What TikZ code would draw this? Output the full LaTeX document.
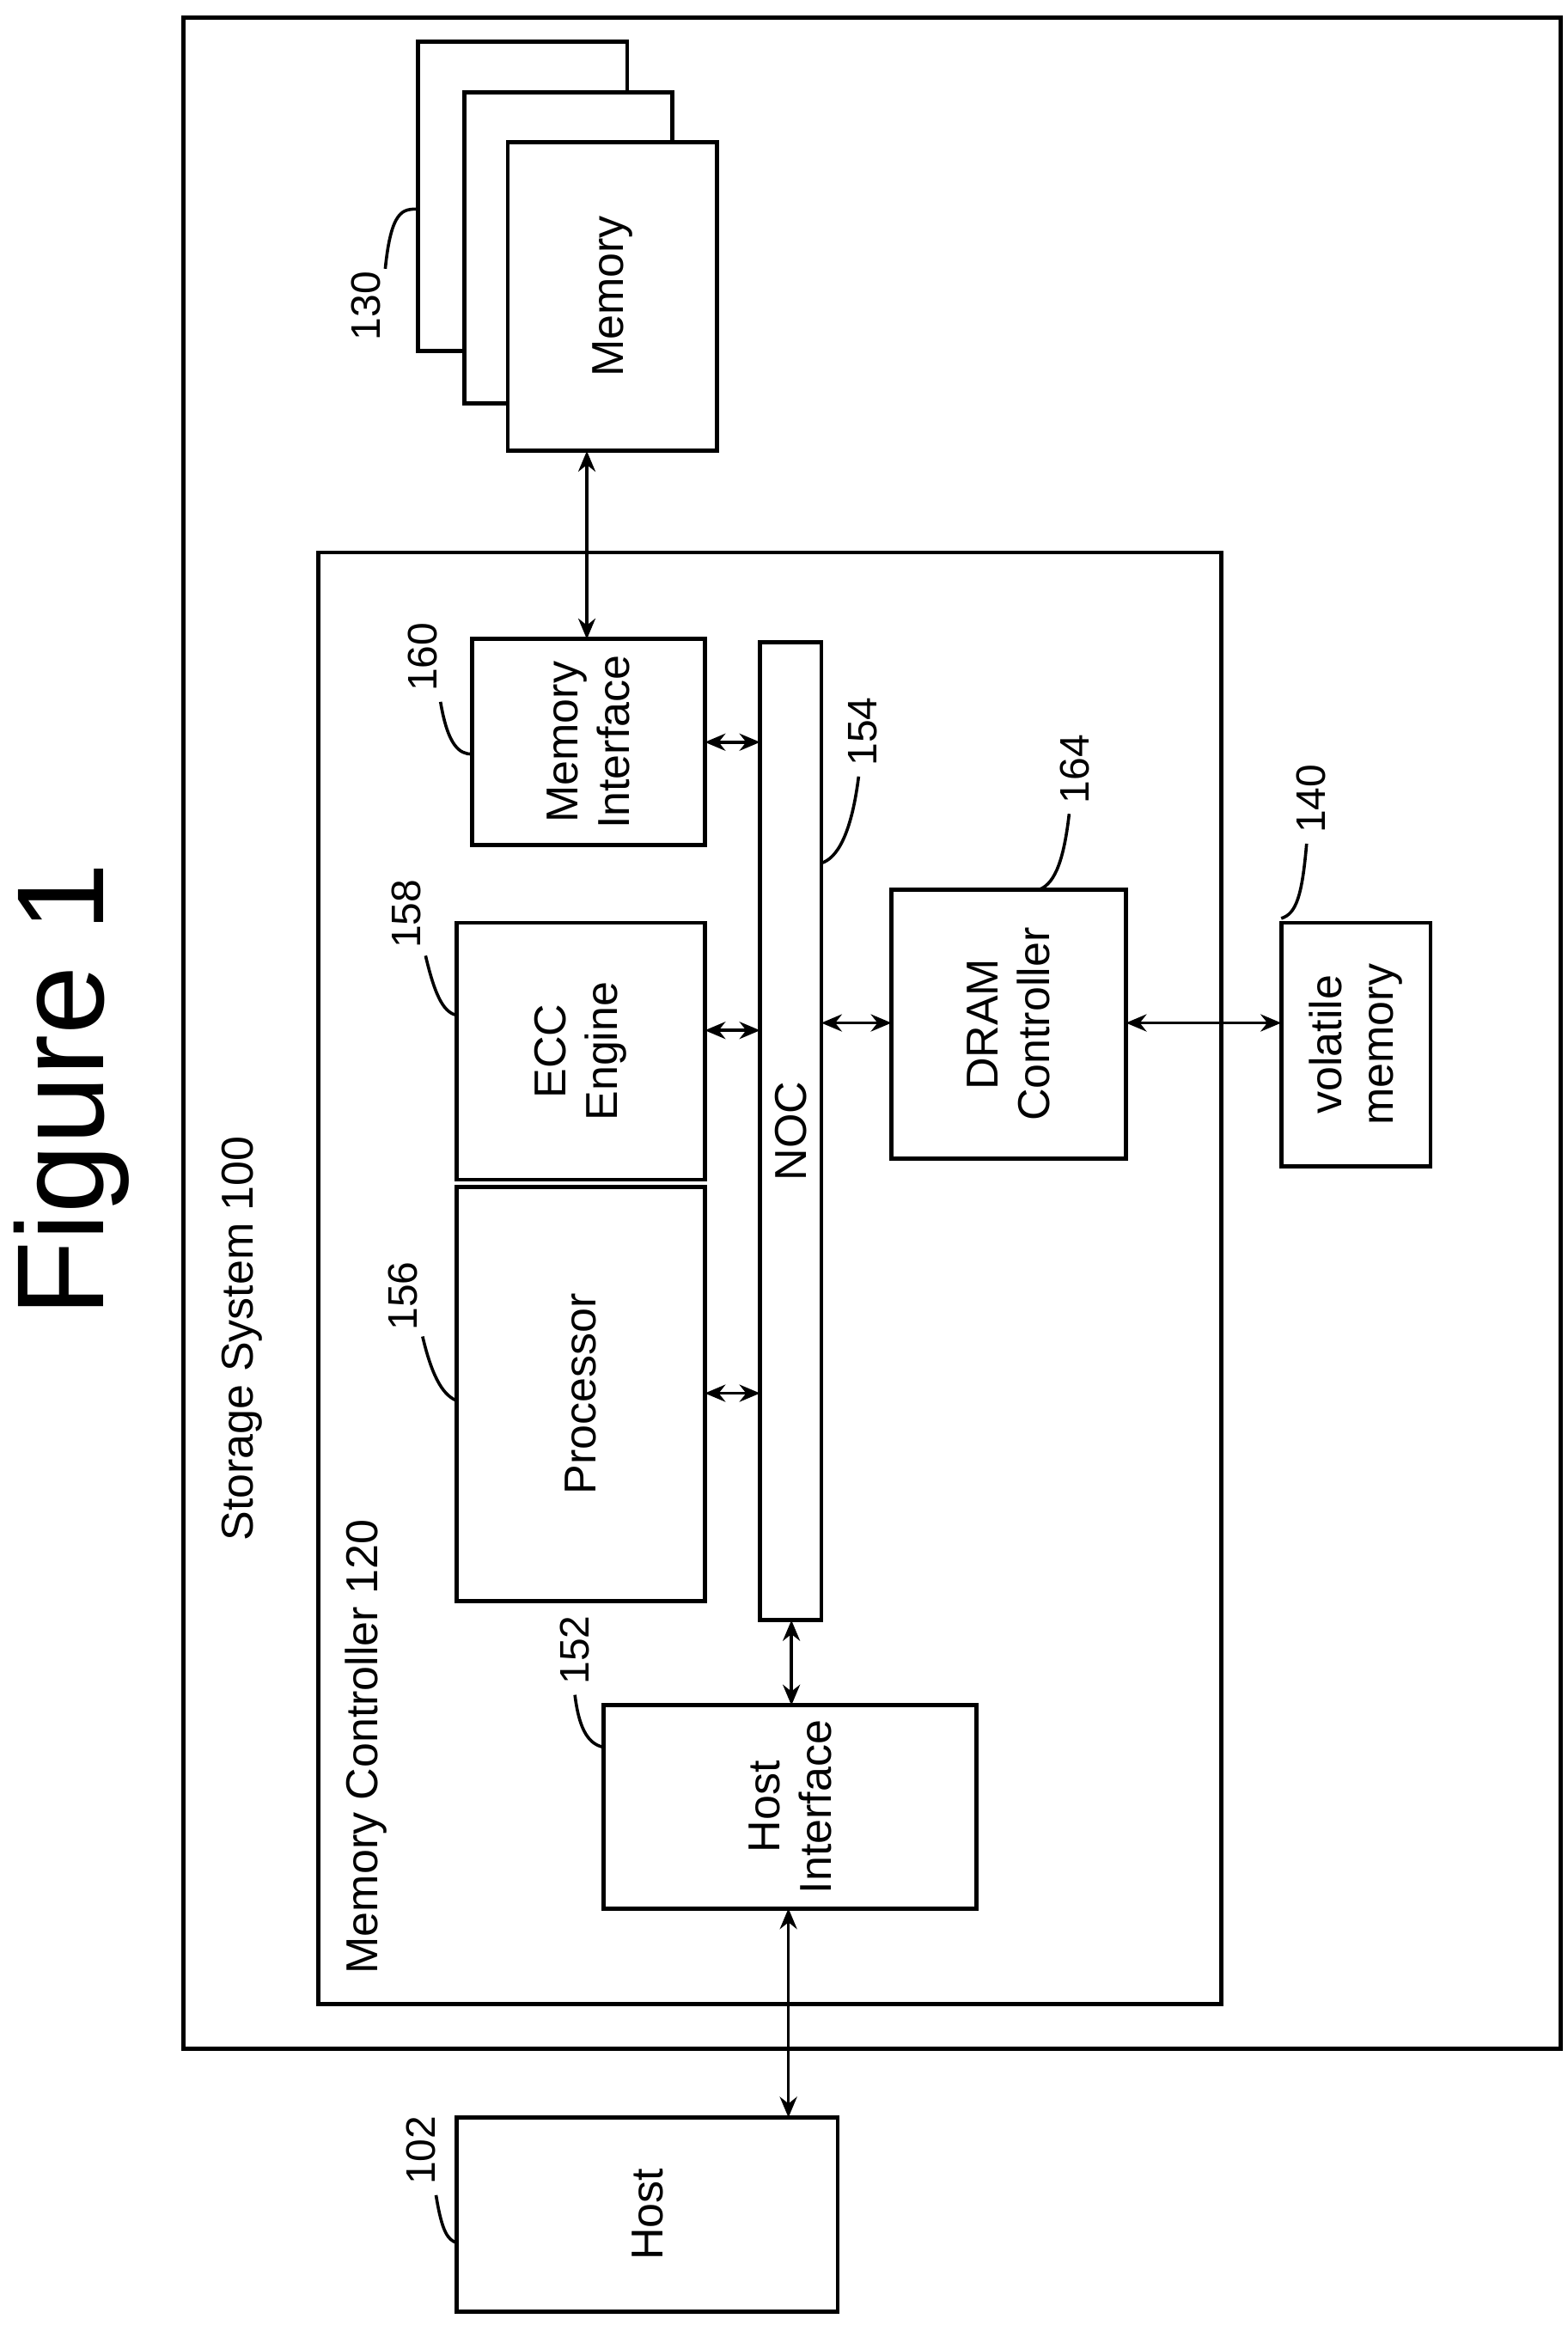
\documentclass[tikz,border=0pt]{standalone}
\usepackage{fontspec}
\setmainfont{Liberation Sans}
\usetikzlibrary{arrows.meta}
\def\u{0.4345pt}
\begin{document}
\begin{tikzpicture}[x=0.4345pt,y=-0.4345pt,
 box/.style={draw,line width=1.2pt,fill=white,anchor=north west,inner sep=0,outer sep=0},
 lbl/.style={rotate=90,font=\fontsize{13}{15}\selectfont,align=center},
 num/.style={rotate=90,font=\fontsize{12}{14}\selectfont},
 ar/.style={{Stealth[length=6pt,width=5pt]}-{Stealth[length=6pt,width=5pt]},line width=0.9pt},
 lead/.style={line width=0.9pt}]
\useasboundingbox (0,0) rectangle (1050,1561);
\draw[line width=1.2pt] (123,12) rectangle (1045,1372);
\draw[line width=1.2pt] (213,370) rectangle (818,1342);
\node[box,minimum width=140*\u,minimum height=207*\u] (m3) at (280,28) {};
\node[box,minimum width=139*\u,minimum height=208*\u] (m2) at (311,62) {};
\node[box,minimum width=140*\u,minimum height=207*\u] (mem) at (340,95) {};
\node[lbl] at (mem.center) {Memory};
\node[box,minimum width=156*\u,minimum height=138*\u] (mi) at (316,428) {};
\node[lbl] at (mi.center) {Memory\\Interface};
\node[box,minimum width=41*\u,minimum height=655*\u] (noc) at (509,430) {};
\node[lbl] at (noc.center) {NOC};
\node[box,minimum width=166*\u,minimum height=172*\u] (ecc) at (306,618) {};
\node[lbl] at (ecc.center) {ECC\\Engine};
\node[box,minimum width=166*\u,minimum height=277*\u] (proc) at (306,795) {};
\node[lbl] at (proc.center) {Processor};
\node[box,minimum width=250*\u,minimum height=136*\u] (hi) at (404,1142) {};
\node[lbl] at (hi.center) {Host\\Interface};
\node[box,minimum width=157*\u,minimum height=180*\u] (dram) at (597,596) {};
\node[lbl] at (dram.center) {DRAM\\Controller};
\node[box,minimum width=100*\u,minimum height=163*\u] (vm) at (858,618) {};
\node[lbl] at (vm.center) {volatile\\memory};
\node[box,minimum width=255*\u,minimum height=130*\u] (host) at (306,1418) {};
\node[lbl] at (host.center) {Host};
\node[rotate=90,font=\fontsize{36}{40}\selectfont] (fig) at (48,730) {Figure 1};
\node[lbl,anchor=west] (ss) at (162,1040) {Storage System 100};
\node[lbl,anchor=west] (mc) at (245,1330) {Memory Controller 120};
% arrows
\draw[ar] (mem.south -| 393,0) -- (mi.north -| 393,0);
\draw[ar] (mi.east |- 0,497) -- (noc.west |- 0,497);
\draw[ar] (ecc.east |- 0,690) -- (noc.west |- 0,690);
\draw[ar] (proc.east |- 0,933) -- (noc.west |- 0,933);
\draw[ar] (noc.east |- 0,685) -- (dram.west |- 0,685);
\draw[ar] (dram.east |- 0,685) -- (vm.west |- 0,685);
\draw[ar] (noc.south -| 530,0) -- (hi.north -| 530,0);
\draw[ar] (hi.south -| 528,0) -- (host.north -| 528,0);
% labels with leaders
\node[num] (l130) at (245,205) {130};
\draw[lead] (258,180) .. controls (262,140) and (270,140) .. (280,140);
\node[num] (l160) at (283,440) {160};
\draw[lead] (295,470) .. controls (300,500) and (308,505) .. (316,505);
\node[num] (l158) at (272,612) {158};
\draw[lead] (285,640) .. controls (292,670) and (298,678) .. (306,680);
\node[num] (l156) at (270,868) {156};
\draw[lead] (283,895) .. controls (290,925) and (298,935) .. (306,938);
\node[num] (l152) at (385,1105) {152};
\draw[lead] (385,1135) .. controls (388,1160) and (395,1168) .. (404,1170);
\node[num] (l154) at (578,490) {154};
\draw[lead] (575,520) .. controls (570,560) and (560,575) .. (550,578);
\node[num] (l164) at (720,515) {164};
\draw[lead] (716,545) .. controls (712,580) and (705,593) .. (695,596);
\node[num] (l140) at (878,535) {140};
\draw[lead] (875,565) .. controls (872,600) and (868,612) .. (858,615);
\node[num] (l102) at (282,1440) {102};
\draw[lead] (292,1470) .. controls (296,1495) and (300,1500) .. (306,1502);
\end{tikzpicture}
\end{document}
